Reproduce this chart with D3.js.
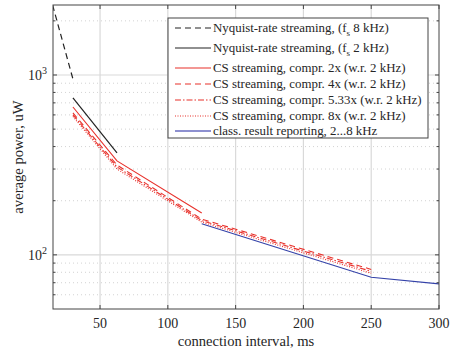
<!DOCTYPE html>
<html>
<head>
<meta charset="utf-8">
<script src="https://cdn.jsdelivr.net/npm/d3@7"></script>
<style>
  body { margin: 0; background: #fff; }
  text { font-family: "Liberation Serif", "DejaVu Serif", serif; fill: #262626; }
</style>
</head>
<body>
<div id="chart"></div>
<script>

// ---------- data ----------
const xTicks = [50, 100, 150, 200, 250, 300];
const yTicks = [100, 1000];

const nyq8Interval = [15, 30];
const nyq8Power = [2450, 950];

const nyq2Interval = [30, 62.5];
const nyq2Power = [745, 369];

const cs2Interval = [30, 62.5, 125];
const cs2Power = [664, 333, 171];

const csInterval = [30, 62.5, 125, 250];
const cs4Power = [615, 316, 158, 83];
const cs533Power = [600, 308, 155, 81];
const cs8Power = [588, 300, 152, 79];

const classInterval = [125, 250, 300];
const classPower = [149, 75, 69];

const seriesNames = [
    "Nyquist-rate streaming, (f_s 8 kHz)",
    "Nyquist-rate streaming, (f_s 2 kHz)",
    "CS streaming, compr. 2x (w.r. 2 kHz)",
    "CS streaming, compr. 4x (w.r. 2 kHz)",
    "CS streaming, compr. 5.33x (w.r. 2 kHz)",
    "CS streaming, compr. 8x (w.r. 2 kHz)",
    "class. result reporting, 2...8 kHz"
];

// ---------- styles ----------
const red = "#e8312b";
const styles = [
    {color: "#222", dash: "6,4", width: 1.2},
    {color: "#222", dash: null, width: 1.2},
    {color: red, dash: null, width: 1.1},
    {color: red, dash: "6,4", width: 1.1},
    {color: red, dash: "6,2,1.5,2", width: 1.1},
    {color: red, dash: "1,1.5", width: 1.1},
    {color: "#3341a8", dash: null, width: 1.1}
];

const series = [
    {x: nyq8Interval, y: nyq8Power},
    {x: nyq2Interval, y: nyq2Power},
    {x: cs2Interval, y: cs2Power},
    {x: csInterval, y: cs4Power},
    {x: csInterval, y: cs533Power},
    {x: csInterval, y: cs8Power},
    {x: classInterval, y: classPower}
];

const width = 453, height = 352;
const margin = {left: 53, right: 14, top: 5, bottom: 43};

const xScale = d3.scaleLinear()
    .domain([15.3, 300])
    .range([margin.left, width - margin.right]);

const yScale = d3.scaleLog()
    .domain([50, 2450])
    .range([height - margin.bottom, margin.top]);

const svg = d3.select("#chart")
    .append("svg")
    .attr("width", width)
    .attr("height", height);

const x0 = margin.left, x1 = width - margin.right;
const y0 = height - margin.bottom, y1 = margin.top;

// minor y values of the log scale
const yMinor = [];
[10, 100, 1000].forEach((dec) => {
    for (let k = 2; k <= 9; k++) {
        const v = dec * k;
        if (v > 50 && v < 2450) yMinor.push(v);
    }
});

// ---------- grid ----------
const grid = svg.append("g");
grid.selectAll(".ymin")
    .data(yMinor)
    .enter()
    .append("line")
    .attr("x1", x0).attr("x2", x1)
    .attr("y1", (d) => yScale(d)).attr("y2", (d) => yScale(d))
    .attr("stroke", "#c8c8c8")
    .attr("stroke-width", 0.8)
    .attr("stroke-dasharray", "1,3");

grid.selectAll(".ymaj")
    .data(yTicks)
    .enter()
    .append("line")
    .attr("x1", x0).attr("x2", x1)
    .attr("y1", (d) => yScale(d)).attr("y2", (d) => yScale(d))
    .attr("stroke", "#d9d9d9")
    .attr("stroke-width", 1.2);

grid.selectAll(".xmaj")
    .data(xTicks.slice(0, -1))
    .enter()
    .append("line")
    .attr("x1", (d) => xScale(d)).attr("x2", (d) => xScale(d))
    .attr("y1", y0).attr("y2", y1)
    .attr("stroke", "#d9d9d9")
    .attr("stroke-width", 1.2);

// ---------- lines ----------
svg.append("clipPath")
    .attr("id", "clip")
    .append("rect")
    .attr("x", x0).attr("y", y1)
    .attr("width", x1 - x0).attr("height", y0 - y1);

const lineFunction = d3.line()
    .x((d) => xScale(d[0]))
    .y((d) => yScale(d[1]));

svg.append("g")
    .attr("clip-path", "url(#clip)")
    .selectAll("path")
    .data(series)
    .enter()
    .append("path")
    .attr("fill", "none")
    .attr("stroke", (d, i) => styles[i].color)
    .attr("stroke-width", (d, i) => styles[i].width)
    .attr("stroke-dasharray", (d, i) => styles[i].dash)
    .attr("d", (d) => lineFunction(d.x.map((v, j) => [v, d.y[j]])));

// ---------- axes box and ticks ----------
const frame = svg.append("g")
    .attr("stroke", "#444")
    .attr("stroke-width", 1);

frame.append("rect")
    .attr("x", x0).attr("y", y1)
    .attr("width", x1 - x0).attr("height", y0 - y1)
    .attr("fill", "none");

xTicks.forEach((d) => {
    const xp = xScale(d);
    frame.append("line").attr("x1", xp).attr("x2", xp).attr("y1", y0).attr("y2", y0 - 4);
    frame.append("line").attr("x1", xp).attr("x2", xp).attr("y1", y1).attr("y2", y1 + 4);
});
yTicks.forEach((d) => {
    const yp = yScale(d);
    frame.append("line").attr("x1", x0).attr("x2", x0 + 4).attr("y1", yp).attr("y2", yp);
    frame.append("line").attr("x1", x1).attr("x2", x1 - 4).attr("y1", yp).attr("y2", yp);
});
yMinor.forEach((d) => {
    const yp = yScale(d);
    frame.append("line").attr("x1", x0).attr("x2", x0 + 2.5).attr("y1", yp).attr("y2", yp);
    frame.append("line").attr("x1", x1).attr("x2", x1 - 2.5).attr("y1", yp).attr("y2", yp);
});

// tick labels
svg.selectAll(".xlab")
    .data(xTicks)
    .enter()
    .append("text")
    .attr("x", (d) => xScale(d))
    .attr("y", y0 + 19)
    .attr("text-anchor", "middle")
    .style("font-size", "14px")
    .text((d) => d);

svg.selectAll(".ylab")
    .data(yTicks)
    .enter()
    .append("text")
    .attr("x", x0 - 6)
    .attr("y", (d) => yScale(d) + 5)
    .attr("text-anchor", "end")
    .style("font-size", "14px")
    .each(function(d) {
        const t = d3.select(this);
        t.append("tspan").text("10");
        t.append("tspan")
            .attr("dy", -6)
            .style("font-size", "10px")
            .text(Math.round(Math.log10(d)));
    });

// axis titles
svg.append("text")
    .attr("x", (x0 + x1) / 2)
    .attr("y", height - 6)
    .attr("text-anchor", "middle")
    .style("font-size", "14.6px")
    .text("connection interval, ms");

svg.append("text")
    .attr("transform", "translate(23," + ((y0 + y1) / 2) + ") rotate(-90)")
    .attr("text-anchor", "middle")
    .style("font-size", "14.6px")
    .text("average power, uW");

// ---------- legend ----------
const legend = svg.append("g");
const lgX = 168, lgY = 18, lgW = 260, lgH = 120;
const rowY = [28, 48, 68, 84, 100, 116, 131];

legend.append("rect")
    .attr("x", lgX).attr("y", lgY)
    .attr("width", lgW).attr("height", lgH)
    .attr("fill", "#fff")
    .attr("stroke", "#444")
    .attr("stroke-width", 1);

legend.selectAll(".lgline")
    .data(seriesNames)
    .enter()
    .append("line")
    .attr("x1", 175).attr("x2", 211)
    .attr("y1", (d, i) => rowY[i]).attr("y2", (d, i) => rowY[i])
    .attr("stroke", (d, i) => i === 6 ? "#8d90d0" : styles[i].color)
    .attr("stroke-width", (d, i) => i === 6 ? 1.8 : styles[i].width)
    .attr("stroke-dasharray", (d, i) => styles[i].dash);

legend.selectAll(".lgtext")
    .data(seriesNames)
    .enter()
    .append("text")
    .attr("x", 213)
    .attr("y", (d, i) => rowY[i] + 4)
    .style("font-size", "12.9px")
    .each(function(d) {
        const t = d3.select(this);
        const parts = d.split("f_s");
        if (parts.length === 1) {
            t.text(d);
        } else {
            t.append("tspan").text(parts[0] + "f");
            t.append("tspan").attr("dy", 4).style("font-size", "9px").text("s");
            t.append("tspan").attr("dy", -4).text(parts[1]);
        }
    });

</script>
</body>
</html>
